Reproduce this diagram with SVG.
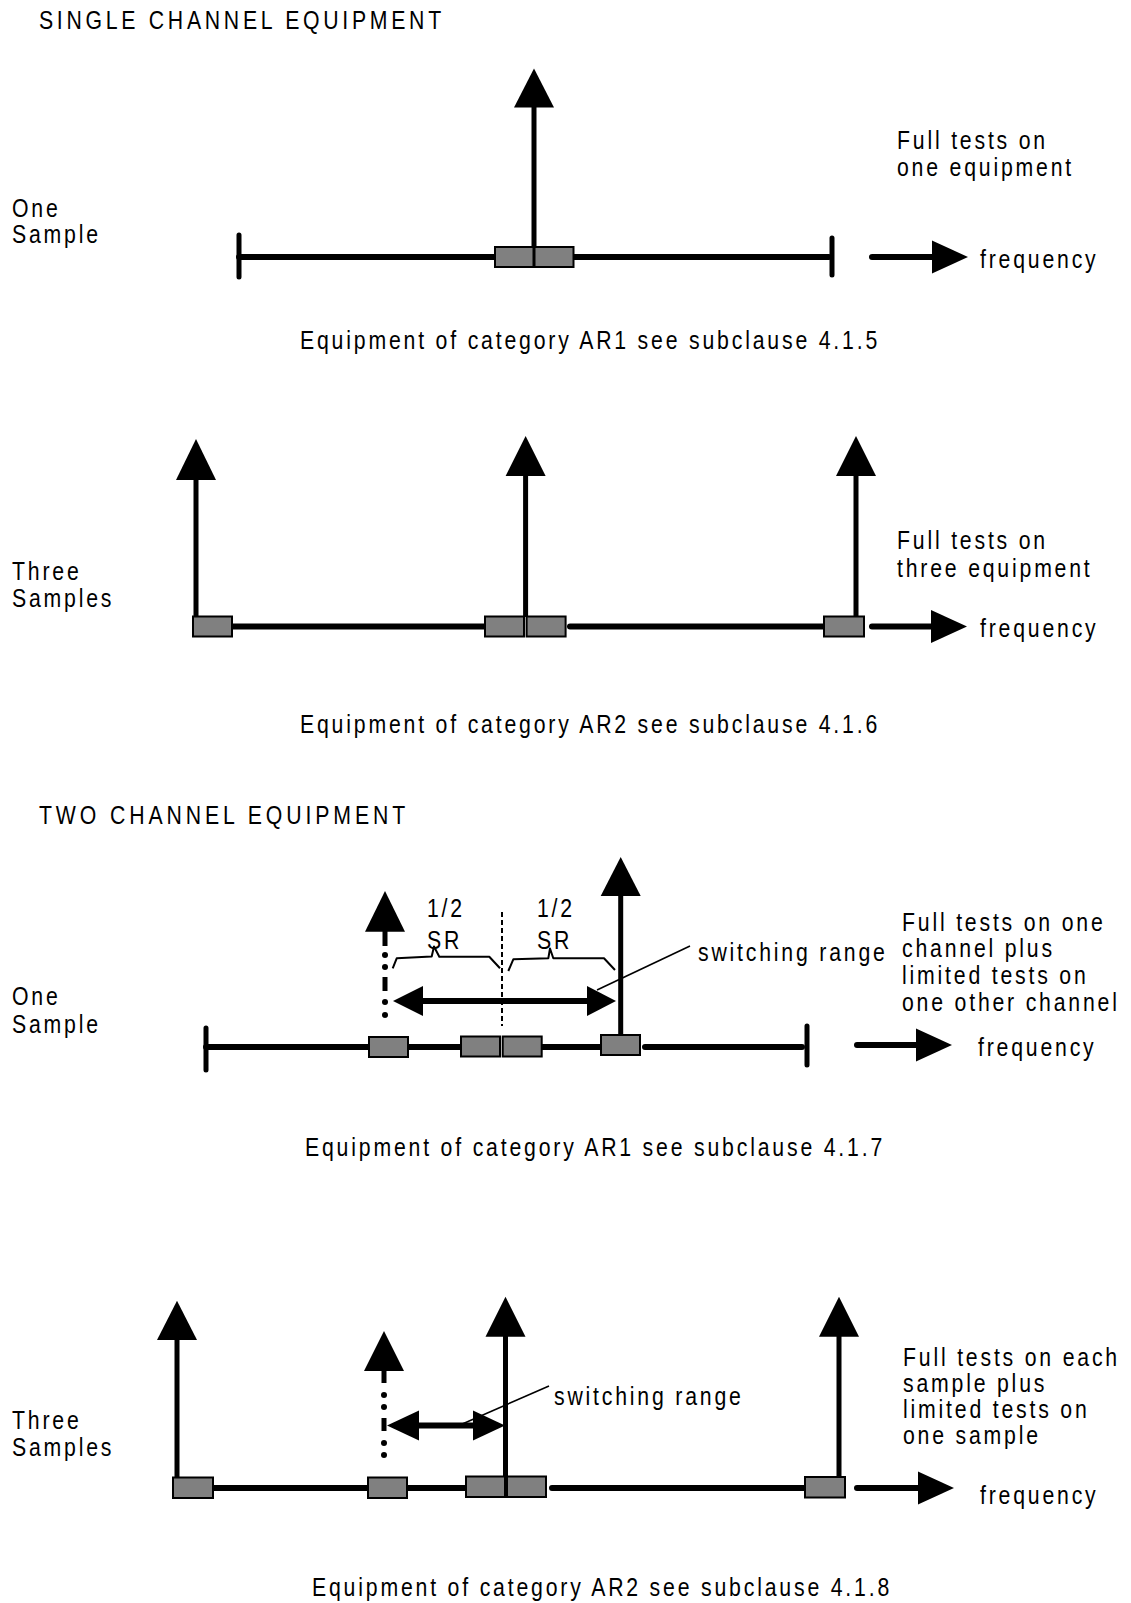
<svg xmlns="http://www.w3.org/2000/svg" width="1131" height="1603" viewBox="0 0 1131 1603">
<style>
text{font-family:"Liberation Sans",Arial,sans-serif;font-size:25px;fill:#000;letter-spacing:3.3px}
.title{letter-spacing:4.5px}
.ln{stroke:#000;stroke-width:6;stroke-linecap:round;fill:none}
.tk{stroke:#000;stroke-width:5;stroke-linecap:round;fill:none}
.sh{stroke:#000;stroke-width:5;fill:none}
.box{fill:#808080;stroke:#000;stroke-width:2}
.hd{fill:#000}
.thin{stroke:#000;stroke-width:1.6;fill:none}
.brace{stroke:#000;stroke-width:2;fill:none;stroke-linejoin:round}
.dash{stroke:#000;stroke-width:2;stroke-dasharray:5 3;fill:none}
.dt{fill:#000}
</style>
<rect width="1131" height="1603" fill="#fff"/>

<!-- Section 1 -->
<g id="title-single"><text class="title" transform="translate(39 29) scale(0.85 1)" textLength="477.6">SINGLE CHANNEL EQUIPMENT</text></g>
<g id="s1-label">
<text transform="translate(12 217) scale(0.85 1)">One</text>
<text transform="translate(12 243) scale(0.85 1)">Sample</text>
</g>
<g id="s1-note">
<text transform="translate(897 149) scale(0.85 1)">Full tests on</text>
<text transform="translate(897 176) scale(0.85 1)">one equipment</text>
</g>
<g id="s1-caption"><text transform="translate(300 348.5) scale(0.85 1)" textLength="682.4">Equipment of category AR1 see subclause 4.1.5</text></g>
<g id="s1-axis">
<path class="ln" d="M239 257 H495 M573 257 H829"/>
<path class="tk" d="M239 235 V277 M832 238 V275"/>
</g>
<g id="s1-arrow">
<path class="sh" d="M534 106 V248"/>
<polygon class="hd" points="534,68.5 514,107.5 554,107.5"/>
</g>
<g id="s1-boxes">
<rect class="box" x="495" y="247" width="38.5" height="20"/>
<rect class="box" x="534.5" y="247" width="39" height="20"/>
</g>
<g id="s1-freq">
<path class="ln" d="M872 257 H935"/>
<polygon class="hd" points="968,257 932,240.5 932,273.5"/>
<text transform="translate(980 268) scale(0.85 1)">frequency</text>
</g>

<!-- Section 2 -->
<g id="s2-label">
<text transform="translate(12 580) scale(0.85 1)">Three</text>
<text transform="translate(12 607) scale(0.85 1)">Samples</text>
</g>
<g id="s2-note">
<text transform="translate(897 549) scale(0.85 1)">Full tests on</text>
<text transform="translate(897 577) scale(0.85 1)">three equipment</text>
</g>
<g id="s2-caption"><text transform="translate(300 732.5) scale(0.85 1)" textLength="682.4">Equipment of category AR2 see subclause 4.1.6</text></g>
<g id="s2-axis"><path class="ln" d="M232 626.5 H485 M570 626.5 H824"/></g>
<g id="s2-arrows">
<path class="sh" d="M196 478 V618 M525.6 475 V617 M856 475 V617"/>
<polygon class="hd" points="196,439 176,480 216,480"/>
<polygon class="hd" points="525.6,436 505.6,476 545.6,476"/>
<polygon class="hd" points="856,436 836,476 876,476"/>
</g>
<g id="s2-boxes">
<rect class="box" x="193" y="616.5" width="39" height="20"/>
<rect class="box" x="485" y="616.5" width="39" height="20"/>
<rect class="box" x="526.6" y="616.5" width="39" height="20"/>
<rect class="box" x="824" y="616.5" width="40" height="20"/>
</g>
<g id="s2-freq">
<path class="ln" d="M872 626.5 H934"/>
<polygon class="hd" points="967,626.5 931,610 931,643"/>
<text transform="translate(980 637) scale(0.85 1)">frequency</text>
</g>

<!-- Section 3 -->
<g id="title-two"><text class="title" transform="translate(39 824) scale(0.85 1)" textLength="435.3">TWO CHANNEL EQUIPMENT</text></g>
<g id="s3-label">
<text transform="translate(12 1005) scale(0.85 1)">One</text>
<text transform="translate(12 1033) scale(0.85 1)">Sample</text>
</g>
<g id="s3-note">
<text transform="translate(902 930.5) scale(0.85 1)">Full tests on one</text>
<text transform="translate(902 957) scale(0.85 1)">channel plus</text>
<text transform="translate(902 984) scale(0.85 1)">limited tests on</text>
<text transform="translate(902 1011) scale(0.85 1)">one other channel</text>
</g>
<g id="s3-caption"><text transform="translate(305 1155.5) scale(0.85 1)" textLength="682.4">Equipment of category AR1 see subclause 4.1.7</text></g>
<g id="s3-axis">
<path class="ln" d="M206 1047 H369 M408 1047 H462 M542 1047 H601 M645 1047 H802"/>
<path class="tk" d="M206 1028 V1070 M807 1026 V1065"/>
</g>
<g id="s3-boxes">
<rect class="box" x="369" y="1037" width="39" height="20"/>
<rect class="box" x="461" y="1036.5" width="39" height="20"/>
<rect class="box" x="502.7" y="1036.5" width="39" height="20"/>
<rect class="box" x="601" y="1035" width="39" height="20"/>
</g>
<g id="s3-arrow">
<path class="sh" d="M620.7 895 V1036"/>
<polygon class="hd" points="620.7,857 600.7,896 640.7,896"/>
</g>
<g id="s3-dotted-arrow">
<polygon class="hd" points="385,891 365,931.7 405,931.7"/>
<path class="sh" d="M385 930 V946 M385 977 V991"/>
<circle class="dt" cx="385" cy="955" r="3"/>
<circle class="dt" cx="385" cy="967" r="3"/>
<circle class="dt" cx="385" cy="1002" r="3"/>
<circle class="dt" cx="385" cy="1015" r="3"/>
</g>
<g id="s3-mid"><path class="dash" d="M502 912 V1026"/></g>
<g id="s3-braces">
<polyline class="brace" points="392.7,968.3 396.7,958.3 431.7,956.5 434,946.5 439.3,956.7 489.3,956.7 500,968.3"/>
<polyline class="brace" points="508.3,971 513.3,959.3 548.3,958.3 550,948.5 553.3,958.3 604,958.3 615,970"/>
<text transform="translate(427 916.5) scale(0.85 1)">1/2</text>
<text transform="translate(427 949) scale(0.85 1)">SR</text>
<text transform="translate(537 916.5) scale(0.85 1)">1/2</text>
<text transform="translate(537 949) scale(0.85 1)">SR</text>
</g>
<g id="s3-range">
<path class="ln" d="M423 1001 H587"/>
<polygon class="hd" points="393,1001 423,986 423,1016"/>
<polygon class="hd" points="616,1001 587,986 587,1016"/>
<path class="thin" d="M690 946 L597 990"/>
<text transform="translate(698 961) scale(0.85 1)">switching range</text>
</g>
<g id="s3-freq">
<path class="ln" d="M857 1045 H919"/>
<polygon class="hd" points="952,1045 916,1028.5 916,1061.5"/>
<text transform="translate(978 1056) scale(0.85 1)">frequency</text>
</g>

<!-- Section 4 -->
<g id="s4-label">
<text transform="translate(12 1428.5) scale(0.85 1)">Three</text>
<text transform="translate(12 1456) scale(0.85 1)">Samples</text>
</g>
<g id="s4-note">
<text transform="translate(903 1366) scale(0.85 1)">Full tests on each</text>
<text transform="translate(903 1392) scale(0.85 1)">sample plus</text>
<text transform="translate(903 1418) scale(0.85 1)">limited tests on</text>
<text transform="translate(903 1444) scale(0.85 1)">one sample</text>
</g>
<g id="s4-caption"><text transform="translate(312 1595.5) scale(0.85 1)" textLength="682.4">Equipment of category AR2 see subclause 4.1.8</text></g>
<g id="s4-axis"><path class="ln" d="M213 1488 H368 M407 1488 H466 M552 1488 H805"/></g>
<g id="s4-arrows">
<path class="sh" d="M177 1339 V1478 M505.5 1335 V1477 M839 1335 V1478"/>
<polygon class="hd" points="177,1300.7 157,1340 197,1340"/>
<polygon class="hd" points="505.5,1296.7 485.5,1336.7 525.5,1336.7"/>
<polygon class="hd" points="839,1296.7 819,1336.7 859,1336.7"/>
</g>
<g id="s4-boxes">
<rect class="box" x="173" y="1477.5" width="40" height="20.5"/>
<rect class="box" x="368" y="1477.5" width="39" height="20.5"/>
<rect class="box" x="466" y="1476.5" width="39" height="20.5"/>
<rect class="box" x="507" y="1476.5" width="39" height="20.5"/>
<rect class="box" x="805" y="1477" width="40" height="20.5"/>
</g>
<g id="s4-dotted-arrow">
<polygon class="hd" points="384,1331 364,1371 404,1371"/>
<path class="sh" d="M384 1370 V1383 M384 1418 V1431"/>
<circle class="dt" cx="384" cy="1395" r="3"/>
<circle class="dt" cx="384" cy="1407" r="3"/>
<circle class="dt" cx="384" cy="1443" r="3"/>
<circle class="dt" cx="384" cy="1455" r="3"/>
</g>
<g id="s4-range">
<path class="ln" d="M419 1425.5 H473"/>
<polygon class="hd" points="387,1425.5 419,1410.5 419,1440.5"/>
<polygon class="hd" points="505,1425.5 473,1410.5 473,1440.5"/>
<path class="thin" d="M549 1386 L460 1425"/>
<text transform="translate(554 1405) scale(0.85 1)">switching range</text>
</g>
<g id="s4-freq">
<path class="ln" d="M857 1488 H921"/>
<polygon class="hd" points="954,1488 918,1471.5 918,1504.5"/>
<text transform="translate(980 1504) scale(0.85 1)">frequency</text>
</g>
</svg>
